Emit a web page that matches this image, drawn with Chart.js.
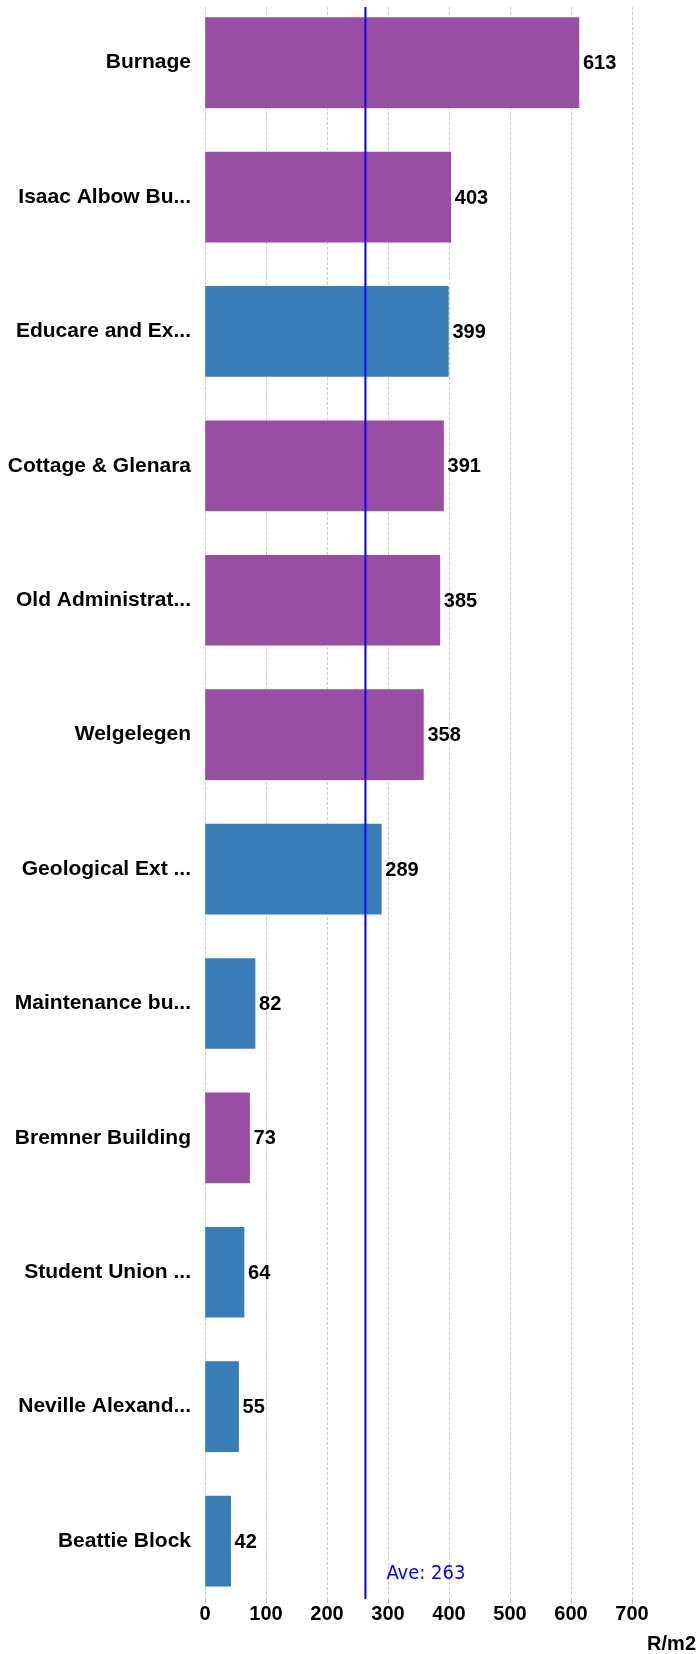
<!DOCTYPE html>
<html>
<head>
<meta charset="utf-8">
<script src="https://cdn.jsdelivr.net/npm/chart.js@4"></script>
<style>
  html, body { margin: 0; padding: 0; background: #fff; }
  #wrap { position: relative; width: 699px; height: 1654px; }
</style>
</head>
<body>
<div id="wrap"><canvas id="costChart"></canvas></div>
<script>
// data
const buildings = ["Burnage", "Isaac Albow Bu...", "Educare and Ex...", "Cottage & Glenara",
                   "Old Administrat...", "Welgelegen", "Geological Ext ...", "Maintenance bu...",
                   "Bremner Building", "Student Union ...", "Neville Alexand...", "Beattie Block"];
const rates = [613, 403, 399, 391, 385, 358, 289, 82, 73, 64, 55, 42];
const groups = ["purple", "purple", "blue", "purple", "purple", "purple",
                "blue", "blue", "purple", "blue", "blue", "blue"];
const average = 263;
const xTicks = [0, 100, 200, 300, 400, 500, 600, 700];
const unitLabel = "R/m2";

const groupColors = { purple: "#984ea3", blue: "#377eb8" };
const FONT = "'Liberation Sans', Arial, sans-serif";

// y range of the category rows (first row center sits a bit below the top)
const yMin = -0.414, yMax = 11.431;

Chart.defaults.font.family = FONT;
Chart.defaults.color = "#000";

const extraText = {
  id: "extraText",
  afterDatasetsDraw(chart) {
    const ctx = chart.ctx;
    const area = chart.chartArea;
    const xs = chart.scales.x;
    const bars = chart.getDatasetMeta(0).data;
    ctx.save();
    // value labels at bar ends
    ctx.font = "bold 20px " + FONT;
    ctx.fillStyle = "#000";
    ctx.textAlign = "left";
    ctx.textBaseline = "middle";
    bars.forEach((bar, i) => ctx.fillText(String(rates[i]), bar.x + 4, bar.y + 1));
    // average label
    ctx.font = "20px 'DejaVu Sans Condensed', 'DejaVu Sans', sans-serif";
    ctx.fillStyle = "#0000ff";
    ctx.textBaseline = "alphabetic";
    ctx.fillText("Ave: " + average, xs.getPixelForValue(average) + 21, area.bottom - 20);
    // axis unit
    ctx.font = "bold 20px " + FONT;
    ctx.fillStyle = "#000";
    ctx.textAlign = "right";
    ctx.textBaseline = "middle";
    ctx.fillText(unitLabel, chart.width - 3, area.bottom + 45);
    ctx.restore();
  }
};

new Chart(document.getElementById("costChart"), {
  type: "bar",
  data: {
    datasets: [
      {
        type: "bar",
        data: rates.map((v, i) => ({ x: v, y: i })),
        backgroundColor: groups.map(g => groupColors[g]),
        barThickness: 90,
        order: 1
      },
      {
        type: "line",
        data: [{ x: average, y: yMin }, { x: average, y: yMax }],
        borderColor: "#0000ff",
        borderWidth: 2,
        pointRadius: 0,
        order: 0
      }
    ]
  },
  options: {
    indexAxis: "y",
    responsive: true,
    maintainAspectRatio: false,
    animation: false,
    events: [],
    layout: { padding: { top: 7, right: 67, bottom: 29, left: 0 } },
    plugins: { legend: { display: false }, tooltip: { enabled: false } },
    scales: {
      x: {
        type: "linear",
        position: "bottom",
        min: xTicks[0],
        max: xTicks[xTicks.length - 1],
        afterBuildTicks: s => { s.ticks = xTicks.map(v => ({ value: v })); },
        grid: {
          color: "#cccccc",
          lineWidth: 1,
          borderDash: [3, 2],
          tickColor: "#fdae61",
          tickLength: 4,
          tickBorderDash: []
        },
        border: { display: false, dash: [3, 2] },
        ticks: {
          padding: 0,
          color: "#000",
          font: { size: 20, weight: "bold", lineHeight: 1.1 }
        }
      },
      y: {
        type: "linear",
        reverse: true,
        offset: false,
        min: yMin,
        max: yMax,
        afterBuildTicks: s => { s.ticks = buildings.map((b, i) => ({ value: i })); },
        afterFit: s => { s.width = 205; s.paddingTop = 0; s.paddingBottom = 0; },
        grid: { display: false, drawTicks: false, offset: false },
        border: { display: false },
        ticks: {
          autoSkip: false,
          padding: 14,
          color: "#000",
          font: { size: 21, weight: "bold", lineHeight: 0.6 },
          callback: v => buildings[v]
        }
      }
    }
  },
  plugins: [extraText]
});
</script>
</body>
</html>
